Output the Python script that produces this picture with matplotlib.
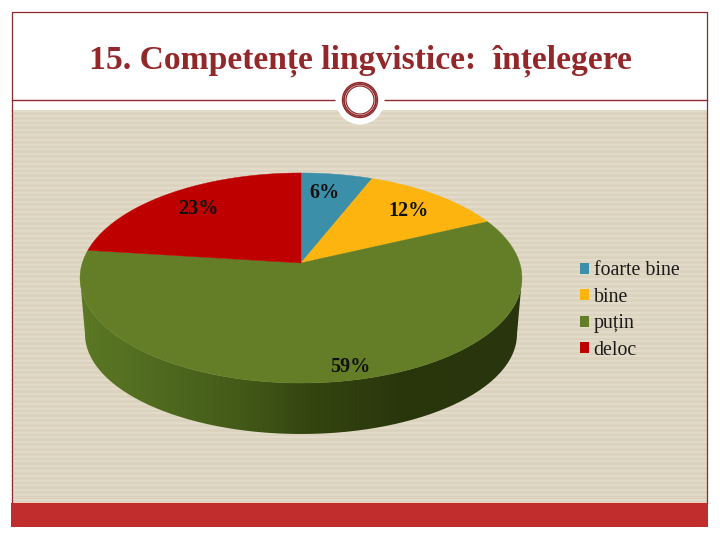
import numpy as np
import matplotlib
matplotlib.use('Agg')
import matplotlib.pyplot as plt
from matplotlib.colors import LinearSegmentedColormap
from matplotlib.patches import Circle, Rectangle, Patch
from matplotlib.path import Path

title = '15. Competențe lingvistice:  înțelegere'
categories = ['foarte bine', 'bine', 'puțin', 'deloc']
values = [6, 12, 59, 23]
slice_colors = ['#3b8fa9', '#fdb40f', '#647e27', '#bf0000']

label_pos = [(324, 193), (408, 210.5), (350, 367), (198.5, 208.5)]

plt.rcParams['font.family'] = ['Liberation Serif', 'DejaVu Serif']

DARK_RED = '#8f2a2c'

# pie geometry in pixels, tilt gives the apex above the ellipse centre
APEX_X, APEX_Y = 301, 263
TILT = 1 / 7
SX = 218.7
SY = 102.9


def project(theta):
    # theta: clockwise from 12 o'clock, unit circle -> tilted picture plane
    u, v = np.sin(theta), np.cos(theta)
    d = 1 + TILT * v
    return APEX_X + SX * u / d, APEX_Y - SY * v / d


fig = plt.figure(figsize=(7.2, 5.4), dpi=100)
ax = fig.add_axes([0, 0, 1, 1])

# striped slide background
ax.add_patch(Rectangle((12, 110), 695, 393, fc='#dcd3bf', ec='none', zorder=0))
for y in np.arange(111, 502, 4.8):
    ax.plot([12, 707], [y, y], color='#e5decd', lw=1.1, zorder=0.5)
ax.plot([12, 707], [502.5, 502.5], color='#f2d0bc', lw=1.2, zorder=0.6)

# frame, rule and footer band
ax.add_patch(Rectangle((11.5, 12), 695.5, 492, fc='none', ec=DARK_RED, lw=0.9, zorder=1))
ax.plot([12, 707], [100, 100], color=DARK_RED, lw=1.0, zorder=1)
ax.add_patch(Rectangle((11, 503), 697, 24, fc='#c12d2c', ec='none', zorder=2))

# medallion on the rule
ax.add_patch(Circle((360, 100), 24.5, fc='white', ec='none', zorder=3))
ax.add_patch(Circle((360, 100), 17.5, fc='none', ec=DARK_RED, lw=1.0, zorder=4))
ax.add_patch(Circle((360, 100), 16, fc='none', ec=DARK_RED, lw=1.3, zorder=4))
ax.add_patch(Circle((360, 100), 14, fc='white', ec=DARK_RED, lw=0.9, zorder=4))

# side wall of the pie with its left-to-right shading
front = np.linspace(-np.pi / 2, np.pi / 2, 200)
top_x = 301 + 221 * np.sin(front)
top_y = 278 + 105 * np.cos(front)
bot_x = 301 + 216 * np.sin(front)
bot_y = 334 + 100 * np.cos(front)
wall_xy = np.column_stack([np.r_[bot_x, top_x[::-1]], np.r_[bot_y, top_y[::-1]]])
wall_cmap = LinearSegmentedColormap.from_list('wall', [
    (0.0, '#5b7824'), (0.17, '#506b1f'), (0.36, '#435a18'),
    (0.52, '#344510'), (0.72, '#2a370c'), (1.0, '#29350c')])
wall = ax.imshow(np.linspace(0, 1, 300)[None, :], cmap=wall_cmap, aspect='auto',
                 extent=(80, 522, 440, 270), zorder=5)
wall.set_clip_path(Path(wall_xy), ax.transData)

# top face: slice angles come from the values
edges = np.cumsum([0] + values) / sum(values) * 2 * np.pi
for a0, a1, col in zip(edges[:-1], edges[1:], slice_colors):
    th = np.linspace(a0, a1, 120)
    x, y = project(th)
    ax.fill(np.r_[APEX_X, x], np.r_[APEX_Y, y], color=col, lw=0.3, zorder=6)

for v, (x, y) in zip(values, label_pos):
    ax.text(x, y, f'{v}%', ha='center', va='center', fontsize=14.5,
            fontweight='bold', color='#101010', zorder=7)

ax.text(360, 61, title, ha='center', va='center', fontsize=24.2,
        fontweight='bold', color='#93282b', zorder=7)

handles = [Patch(fc=c, ec='none') for c in slice_colors]
ax.legend(handles, categories, loc='center left', bbox_to_anchor=(580, 310.5),
          bbox_transform=ax.transData, frameon=False, fontsize=14.3, labelcolor='#1a1a1a',
          handlelength=0.47, handleheight=0.47, handletextpad=0.22,
          labelspacing=0.37, borderpad=0, borderaxespad=0)

ax.set_xlim(0, 720)
ax.set_ylim(540, 0)
ax.axis('off')
fig.savefig('out.png', dpi=100, facecolor='white')
